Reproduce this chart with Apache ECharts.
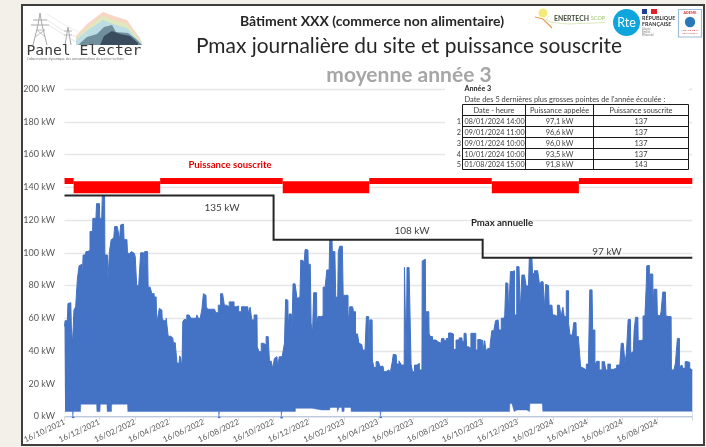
<!DOCTYPE html>
<html><head><meta charset="utf-8">
<style>
html,body{margin:0;padding:0;width:706px;height:447px;background:#f2f0e9;overflow:hidden}
#frame{position:absolute;left:21px;top:4px;width:680px;height:438px;background:#fff;border:2px solid #3f3f3f}
#c{position:absolute;left:0;top:0;width:706px;height:447px}
</style>
<script src="https://cdn.jsdelivr.net/npm/echarts@6/dist/echarts.min.js"></script>
</head><body><div id="frame"></div><div id="c"></div>
<script>
const startDate = [2021, 10, 16];
const tickLabels = ['16/10/2021','16/12/2021','16/02/2022','16/04/2022','16/06/2022','16/08/2022','16/10/2022','16/12/2022','16/02/2023','16/04/2023','16/06/2023','16/08/2023','16/10/2023','16/12/2023','16/02/2024','16/04/2024','16/06/2024','16/08/2024','16/10/2024'];
const unlabelledTicks = ['16/10/2024'];

// Daily peak envelope: days since start, kW
const peakDays = [0,2,4,5,7,11,13,15,18,21,24,27,29,32,33,36,39,43,46,49,50,54,55,57,61,62,65,67,70,71,75,76,78,79,81,82,86,89,92,95,97,99,103,105,109,111,116,118,122,125,127,132,134,138,139,141,145,147,152,153,160,162,164,167,170,171,175,180,182,189,191,196,197,200,202,204,206,207,211,216,219,222,230,232,235,239,241,244,247,248,252,262,266,
271,274,278,280,285,290,294,298,302,306,312,320,322,326,328,334,336,337,342,345,350,354,357,359,362,365,368,371,373,377,383,385,387,390,391,393,396,398,400,405,407,411,414,417,419,421,425,426,429,432,434,436,440,441,444,450,453,457,459,462,464,467,468,472,475,477,479,482,485,488,493,497,499,503,506,510,513,515,519,522,526,528,531,532,534,537,538,
542,546,550,552,556,559,564,567,571,573,575,579,581,587,589,593,594,596,597,599,604,606,609,613,618,621,624,625,630,631,632,636,637,640,645,652,657,660,665,668,673,677,681,686,692,696,699,701,703,708,711,716,720,723,729,732,735,737,741,745,747,752,753,757,760,765,767,770,771,774,777,780,784,787,792,795,796,801,805,807,810,
813,816,818,823,829,830,834,837,839,841,845,847,851,853,859,862,866,868,872,873,875,877,879,881,884,888,890,893,894,900,902,904,909,913,916,918,921,923,925,927,931,936,941,944,946,951,955,961,967,971,973,978,979,983,985,988,989,993,996,998,1001,1002,1008,1012,1015,1016,1017,1021,1022,1023,1027,1028,1030,1034,1036,1040,1043,1046,1049,1051,1055,1059,1060,1064,1069,1071,1073,1074,1078,1081,1086,1090,1093,1096];
const peakKw = [55,58.5,58.5,53,69,69.5,54,44.7,65,67,84,92,93,79,98.6,98.6,100.7,101.7,113,113,121,121,118,130,130,121,121,135,135,98.6,98.6,81,81,100.7,100.7,108,109,116,116,113.5,108,117,117.5,108,108,99.6,98.6,100.7,99.6,97.6,80,79,100,100,89.5,100.7,100.7,79,79,75,73,57,61,66,65,60,58.5,60,49,48,45,43.7,32.5,32.5,37,35.5,29.4,58,59.3,62,61,60,60,62,60,61,66,75,74,67,65.5,65.5,63.4,
68,75,74,68,67,70,70,67,67.5,64,67,67,63,66.7,59,62,62,42.6,39.6,44.7,43.7,48.8,48.8,32.5,34,29.4,35.5,36.5,30.4,36.5,37.6,44.7,71.5,71,52.8,62.6,62.6,51.8,81,81.7,72,73,95.6,95,92.5,102,101.7,93,93,57,50.8,75.6,75.6,57,61,61.4,79,79,89.5,89.5,108,108,100.7,100.7,72.8,73,100.7,104,104,74,74,57,67,67,64,50.4,50.4,44.7,44,40.6,34.5,61,61,40.6,59,59,34.5,
30,33.5,34,30.4,30.8,27.4,28.4,27.4,28.4,33,38,37.6,32,34,31.4,31.4,91,91,32.5,91,91.5,32,27.4,31.4,32.5,28.4,28.4,95,96,52.8,64,64,50.8,48.8,46.7,45.7,44.7,47.7,46.3,47.7,51,50.4,41,46.7,48,46,50.8,50.8,42.6,41.6,50.8,50.8,40.6,47,46.3,40,46.3,40,41.6,43.7,52.4,51.8,58.5,59,52.8,60,60,61.6,81.7,81.3,63,88.5,89,62,91.5,91,64,86.4,85.8,79.7,79.7,
97,97,87.4,89,89.5,80,82.3,82,66,80.7,80,68,68,62,61,68,68,61,66.7,61,61,76.8,76.8,57,49.8,47.7,57.3,57.3,48.8,49.4,30.4,29.4,28.4,32,29.4,77.3,77.3,52.8,52.8,31.4,33.7,28.4,33.5,33.5,28.4,32,28.8,29.4,31.4,29.4,44.7,44.7,32.5,39,59.3,59.3,38.6,39.6,52.8,60.6,60.6,46.3,46.7,61.4,63,79.3,92,92.3,67,87,87,66,77.7,77.7,62,61.4,64,76,76,61.4,61,61,28.4,28.4,32.5,47.7,47.7,30.4,31.4,29.4,33.5,33,29.4,28.4];

// Daily minimum envelope
const floorDays = [0,14,15,16,28,29,56,57,62,63,74,75,82,83,110,111,122,269,270,271,378,379,380,403,404,432,435,463,464,476,477,479,480,484,485,488,489,500,501,551,552,553,777,778,784,786,790,807,812,813,834,836,1096];
const floorKw =   [3,3,0.3,3,3,7.5,7.5,3,3,7.5,7.5,3,3,7.5,7.5,3,3,3,0.3,3,3,0.3,3,3,5,5,4,4,5.5,5.5,3,3,5.5,5.5,3,3,5.5,5.5,3,3,0.3,3,3,8,8,3,4,4,3,8,8,3.2,3.2];
const dipDays = [15,270,379,552];
const dipKw = [-1,-1,-1.2,-1];

const highPeriods = [['2021-10-16','2021-11-01'],['2022-04-01','2022-11-01'],['2023-04-01','2023-11-01'],['2024-04-01','2024-10-16']];
const lowPeriods  = [['2021-11-01','2022-04-01'],['2022-11-01','2023-04-01'],['2023-11-01','2024-04-01']];
const subscribedHigh = 143.8, subscribedLow = 140;

const pmaxDates = ['2021-10-16','2022-10-16','2022-10-16','2023-10-16','2023-10-16','2024-10-16'];
const pmaxKw = [135,135,108,108,97,97];

const tableHead = ['Date - heure','Puissance appelée','Puissance souscrite'];
const tableDates = ['08/01/2024 14:00','09/01/2024 11:00','09/01/2024 10:00','10/01/2024 10:00','01/08/2024 15:00'];
const tableCalled = ['97,1 kW','96,6 kW','96,0 kW','93,5 kW','91,8 kW'];
const tableSubscribed = ['137','137','137','137','143'];

const F = 'Lato, "Open Sans", sans-serif';
const t0 = new Date(startDate[0], startDate[1]-1, startDate[2]).getTime();
const dayTs = d => t0 + d*86400000;
const iso = s => { const p=s.split('-'); return new Date(+p[0],p[1]-1,+p[2]).getTime(); };
const fr = s => { const p=s.split('/'); return new Date(+p[2],p[1]-1,+p[0]).getTime(); };
const tickTs = tickLabels.map(fr);
const labelTs = tickLabels.filter(l=>!unlabelledTicks.includes(l)).map(fr);
const lab = {}; tickLabels.forEach(l=>lab[fr(l)]=l);
const periodData = (ps,v) => { const o=[]; ps.forEach((p,i)=>{ if(i) o.push([iso(p[0]),null]); o.push([iso(p[0]),v],[iso(p[1]),v]); }); return o; };

const txt = (text,x,y,size,fill,opt={}) => ({type:'text',z:20,silent:true,style:Object.assign({text,x,y,fill,font:(opt.weight||'normal')+' '+size+'px '+(opt.family||F),textAlign:opt.align||'left',textVerticalAlign:'middle'})});
const poly = (points,fill) => ({type:'polygon',z:20,silent:true,shape:{points},style:{fill}});
const pl = (points,stroke,w) => ({type:'polyline',z:20,silent:true,shape:{points},style:{stroke,fill:null,lineWidth:w}});

const g = [];
// table background
g.push({type:'rect',z:10,silent:true,shape:{x:445,y:84,width:244,height:88},style:{fill:'#fff'}});
// titles
g.push(txt('Bâtiment XXX (commerce non alimentaire)',372,21,14,'#262626',{weight:'bold',align:'center'}));
g.push(txt('Pmax journalière du site et puissance souscrite',409,46,20.9,'#262626',{align:'center'}));
g.push(txt('moyenne année 3',409,75,21,'#a6a6a6',{weight:'bold',align:'center'}));
// annotations
g.push(txt('Puissance souscrite',230,165,9.6,'#e00000',{weight:'bold',align:'center'}));
g.push(txt('135 kW',222,207.5,10,'#404040',{align:'center'}));
g.push(txt('108 kW',412,230.5,10,'#404040',{align:'center'}));
g.push(txt('97 kW',607,252,10,'#404040',{align:'center'}));
g.push(txt('Pmax annuelle',502,223,9.6,'#262626',{weight:'bold',align:'center'}));
// table
g.push(txt('Année 3',464.5,88.5,7.2,'#262626',{weight:'bold'}));
g.push(txt('Date des 5 dernières plus grosses pointes de l\'année écoulée :',464.5,99.5,7.45,'#404040'));
const rowY=[104.5,115.5,126.5,137.5,148.5,159.5,169.5], colX=[462.5,525.5,593.5,688.5];
rowY.forEach(y=>g.push(pl([[colX[0],y],[colX[3],y]],'#1a1a1a',1)));
colX.forEach(x=>g.push(pl([[x,rowY[0]],[x,rowY[6]]],'#1a1a1a',1)));
tableHead.forEach((t,i)=>g.push(txt(t,(colX[i]+colX[i+1])/2,110.5,7.4,'#404040',{align:'center'})));
tableDates.forEach((d,i)=>{
  const y=(rowY[i+1]+rowY[i+2])/2+.5;
  g.push(txt(String(i+1),461,y,7.4,'#404040',{align:'right'}));
  g.push(txt(d,464.5,y,7.2,'#404040'));
  g.push(txt(tableCalled[i],559.5,y,7.4,'#404040',{align:'center'}));
  g.push(txt(tableSubscribed[i],641,y,7.4,'#404040',{align:'center'}));
});
// Panel Electer logo
g.push(poly([[76,36],[87,24],[103,12],[117,17],[127,20],[134,30],[140,38],[142,45],[76,45]],'#f6d6c4'));
g.push(poly([[76,38],[88,27],[103,16],[116,21],[127,24],[134,33],[142,42],[142,45],[76,45]],'#dfe9bd'));
g.push(poly([[76,40],[88,30],[103,20],[116,25],[127,28],[134,36],[142,44],[142,45],[76,45]],'#bcdde3'));
g.push(poly([[78,45],[87,37],[97,34],[104,27],[112,25],[116,32],[128,33],[136,39],[142,45]],'#6f8f9c'));
g.push(poly([[104,36],[112,31],[120,34],[130,36],[138,43],[138,45],[100,45]],'#3a4d5e'));
const py='#a8a8a8';
g.push(pl([[33,45],[38,25],[40,13],[42,25],[47,45]],py,1));
g.push(pl([[33,20],[47,20]],py,1));g.push(pl([[31,25],[49,25]],py,1));g.push(pl([[35,37],[45,30],[37,30],[45,37]],py,.7));
g.push(pl([[65,45],[67,33],[68,27],[69,33],[71,45]],py,1));g.push(pl([[64,31],[72,31]],py,.8));g.push(pl([[64,35],[72,35]],py,.8));
g.push(pl([[47,20],[64,31],[82,40]],'#d6d6d6',.6));g.push(pl([[49,25],[64,35],[80,44]],'#d6d6d6',.6));g.push(pl([[47,14],[68,27],[88,36]],'#e0e0e0',.6));
g.push(txt('Panel Electer',26.5,51,14.7,'#3a3a3a',{family:'"DejaVu Sans Mono", monospace'}));
g.push(txt('L\'observatoire dynamique des consommations du secteur tertiaire',27,59,3.4,'#777'));
// Enertech logo
g.push({type:'circle',z:20,silent:true,shape:{cx:543,cy:13,r:4.5},style:{fill:'#f4ea7a'}});
g.push(pl([[535,17],[543,19],[549,25],[552,28]],'#ee9a4d',1.2));
g.push(pl([[549,16],[546,20],[553,22.5],[568,24],[605,22.5]],'#cfe3a8',.8));
g.push(txt('ENERTECH',554,18.5,6.8,'#3f4a3a',{weight:'bold'}));
g.push(txt('SCOP',591,18.5,5.4,'#9cc46a'));
// RTE
g.push({type:'circle',z:20,silent:true,shape:{cx:626.5,cy:22.5,r:13.5},style:{fill:'#0ea5dc'}});
g.push(txt('Rte',626.5,23,12.5,'#fff',{align:'center'}));
// République française
g.push({type:'rect',z:20,silent:true,shape:{x:642,y:9,width:5,height:5},style:{fill:'#1f3f94'}});
g.push({type:'rect',z:20,silent:true,shape:{x:651,y:9,width:6,height:5},style:{fill:'#e1202f'}});
g.push(txt('RÉPUBLIQUE',642,18,5.4,'#333',{weight:'bold'}));
g.push(txt('FRANÇAISE',642,24,5.4,'#333',{weight:'bold'}));
g.push(txt('Liberté',642,29,2.8,'#777'));g.push(txt('Égalité',642,32,2.8,'#777'));g.push(txt('Fraternité',642,35,2.8,'#777'));
// ADEME
g.push({type:'rect',z:20,silent:true,shape:{x:678.5,y:9.5,width:23,height:27.5},style:{fill:'#fff',stroke:'#9dbcd8',lineWidth:1.2}});
g.push(txt('ADEME',690,13,3.6,'#d0352f',{weight:'bold',align:'center'}));
g.push({type:'circle',z:21,silent:true,shape:{cx:690,cy:22,r:5.2},style:{fill:'#2a78ba'}});
g.push(txt('AGENCE DE LA',690,30,2.6,'#d0352f',{align:'center'}));g.push(txt('TRANSITION',690,33,2.6,'#d0352f',{align:'center'}));

const chart = echarts.init(document.getElementById('c'),null,{renderer:'canvas'});
chart.setOption({
  animation:false,
  backgroundColor:'transparent',
  grid:{left:64.5,right:13.7,top:89,bottom:30.5,outerBoundsMode:'none'},
  xAxis:{type:'value',min:tickTs[0],max:tickTs[tickTs.length-1],scale:true,
    axisLine:{show:true,onZero:true,lineStyle:{color:'#e2e2e2',width:1.5}},
    axisTick:{show:true,length:4,lineStyle:{color:'#d9d9d9'},customValues:tickTs},
    axisLabel:{customValues:labelTs,rotate:25,fontFamily:F,fontSize:8,color:'#595959',margin:5,hideOverlap:false,
      formatter:v=>lab[v]||''},
    splitLine:{show:false}},
  yAxis:{type:'value',min:0,max:200,interval:20,
    axisLine:{show:false},axisTick:{show:false},
    axisLabel:{formatter:'{value} kW',fontFamily:F,fontSize:9,color:'#595959',margin:9.5},
    splitLine:{lineStyle:{color:'#e6e6e6',width:1.3}}},
  graphic:{elements:g},
  series:[
    {name:'Pmax journalière',type:'line',z:2,symbol:'none',step:'middle',data:peakDays.map((d,i)=>[dayTs(d),peakKw[i]]),
      lineStyle:{color:'#4472C4',width:1},areaStyle:{color:'#4472C4',opacity:1,origin:0},itemStyle:{color:'#4472C4'}},
    {name:'Creux',type:'line',z:3,symbol:'none',step:'middle',data:floorDays.map((d,i)=>[dayTs(d),floorKw[i]]),
      lineStyle:{color:'#4472C4',width:.6,opacity:.8},areaStyle:{color:'#fff',opacity:1,origin:0}},
    {name:'Creux négatifs',type:'bar',z:3,clip:false,barWidth:2.4,data:dipDays.map((d,i)=>[dayTs(d),dipKw[i]]),itemStyle:{color:'#4472C4'}},
    {name:'Puissance souscrite haute',type:'line',z:5,symbol:'none',data:periodData(highPeriods,subscribedHigh),lineStyle:{color:'#ff0000',width:6,cap:'butt'}},
    {name:'Puissance souscrite basse',type:'line',z:5,symbol:'none',data:periodData(lowPeriods,subscribedLow),lineStyle:{color:'#ff0000',width:12,cap:'butt'}},
    {name:'Pmax annuelle',type:'line',z:6,symbol:'none',data:pmaxDates.map((d,i)=>[iso(d),pmaxKw[i]]),lineStyle:{color:'#262626',width:2,join:'miter'}}
  ]
});
</script></body></html>
